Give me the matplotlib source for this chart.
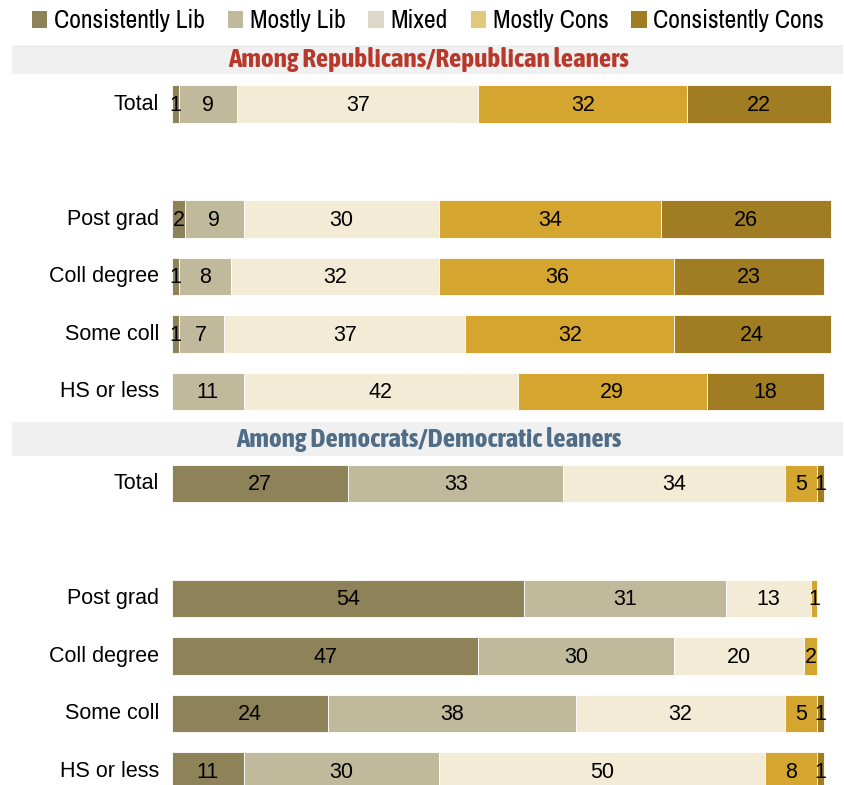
import matplotlib.pyplot as plt
from matplotlib.patches import Patch, Rectangle
from matplotlib import font_manager

categories = ['Consistently Lib', 'Mostly Lib', 'Mixed', 'Mostly Cons', 'Consistently Cons']
bar_colors = ['#8e8259', '#c1b99c', '#f4ebd6', '#d4a630', '#a07d22']
legend_colors = ['#8e8259', '#c1b99c', '#dcd9c9', '#e3c77a', '#a07d22']

row_labels = ['Total', 'Post grad', 'Coll degree', 'Some coll', 'HS or less']

# values per row: Consistently Lib, Mostly Lib, Mixed, Mostly Cons, Consistently Cons
rep_values = [
    [1, 9, 37, 32, 22],
    [2, 9, 30, 34, 26],
    [1, 8, 32, 36, 23],
    [1, 7, 37, 32, 24],
    [0, 11, 42, 29, 18],
]
dem_values = [
    [27, 33, 34, 5, 1],
    [54, 31, 13, 1, 0],
    [47, 30, 20, 2, 0],
    [24, 38, 32, 5, 1],
    [11, 30, 50, 8, 1],
]

W, H = 844, 785
fig = plt.figure(figsize=(W / 100, H / 100), dpi=100)

x0, unit = 172, 6.52   # pixel start of bars, pixels per percent
xmax = 103
ax = fig.add_axes([x0 / W, 0, xmax * unit / W, 1])
row_px, top_px = 57.5, 104
ax.set_xlim(0, xmax)
ax.set_ylim((H - top_px) / row_px, -top_px / row_px)
ax.axis('off')

rep_pos = [0, 2, 3, 4, 5]
dem_pos = [6.6, 8.6, 9.6, 10.6, 11.6]

font = 'Liberation Sans'
fl = font_manager.fontManager.ttflist
cond = sorted({f.name for f in fl if 'Condensed' in f.name or 'Narrow' in f.name})
cond_bold = [n for n in cond if any(f.name == n and f.weight in ('bold', 700, 'Bold') for f in fl)]
narrow = cond[0] if cond else 'DejaVu Sans'
narrow_bold = cond_bold[0] if cond_bold else narrow
hdr_size = 19.5 if cond else 13.6
leg_size = 18.5 if cond else 14.3

for positions, values in [(rep_pos, rep_values), (dem_pos, dem_values)]:
    for y, row, lab in zip(positions, values, row_labels):
        left = 0
        for v, c in zip(row, bar_colors):
            if v > 0:
                ax.barh(y, v, left=left, height=0.66, color=c, edgecolor='white', linewidth=0.6)
                ax.text(left + v / 2, y + 0.02, str(v), ha='center', va='center',
                        fontsize=15.5, family=font, color='black')
            left += v
        ax.text(-2, y, lab, ha='right', va='center', fontsize=15.5, family=font, color='black')

# section header bands
headers = [('Among Republicans/Republican leaners', '#b8392b', 45, 74),
           ('Among Democrats/Democratic leaners', '#4f6d86', 422, 456)]
for txt, col, ytop, ybot in headers:
    fig.patches.append(Rectangle((12 / W, 1 - ybot / H), (843 - 12) / W, (ybot - ytop) / H,
                                 transform=fig.transFigure, facecolor='#f0f0f0',
                                 edgecolor='none', zorder=0))
    fig.text(429 / W, 1 - (ytop + ybot) / 2 / H, txt, ha='center', va='center',
             fontsize=hdr_size, fontweight='bold', family=narrow_bold, color=col)

handles = [Patch(facecolor=c, edgecolor='none') for c in legend_colors]
fig.legend(handles, categories, loc='center', bbox_to_anchor=(428 / W, 1 - 21 / H),
           ncol=5, frameon=False, prop={'family': narrow, 'size': leg_size},
           handlelength=0.6, handleheight=0.6, handletextpad=0.25, columnspacing=0.9,
           borderpad=0)

fig.savefig('out.png', dpi=100)
plt.close(fig)
